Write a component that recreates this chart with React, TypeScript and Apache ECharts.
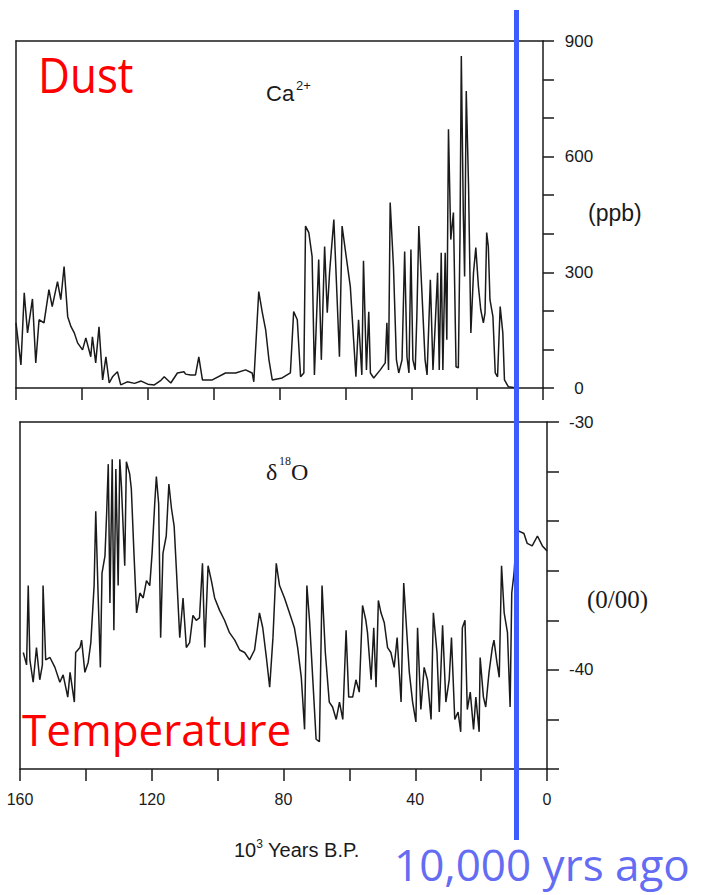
import { useEffect, useRef } from 'react';
import * as echarts from 'echarts';

// Ca2+ (ppb) vs age (10^3 years B.P.)
const caAges = [160, 158.5, 157.5, 156.5, 155, 154, 153, 151.5, 150, 149, 147.4, 146.4, 145.4, 144.3, 143.3, 142.3, 141.3, 139.8, 138.8, 137.3, 136.8, 135.8, 134.8, 133.7, 132.7, 131.7, 130.7, 129.2, 128.2, 126.2, 124, 122, 120, 118, 116, 115, 113, 111, 109, 108.5, 107, 105.5, 104.5, 103.4, 100.4, 96.4, 93.3, 90.3, 88.3, 87.8, 86.3, 85.2, 84.2, 83.2, 82.2, 79.2, 76.7, 75.7, 74.6, 73.6, 72.6, 72.1, 71.1, 70.1, 69.4, 68.1, 67.3, 66.3, 65.5, 64.8, 63.5, 62.5, 61.8, 61, 59.5, 58.5, 57.5, 56.8, 56, 55, 54.5, 53.6, 52.9, 52.4, 51.4, 49.4, 47.9, 47.4, 46.9, 46.4, 45.4, 44.5, 43.8, 42.8, 42, 41.3, 40.7, 40.1, 39.5, 38.8, 38.3, 37.7, 36.8, 35.8, 35.2, 34.2, 33.4, 32.7, 32, 31.5, 30.9, 30.4, 29.7, 29.2, 28.7, 28, 27.2, 26.4, 25.7, 25.2, 24.8, 24.2, 23.8, 23.3, 22.6, 21.9, 21.1, 20.4, 19.6, 18.9, 18.1, 17.6, 17.1, 16.6, 16.1, 15.2, 14.5, 13.8, 13, 12.2, 11.7, 10.5, 8];
const caValues = [169, 60, 247, 143, 231, 65, 177, 169, 255, 211, 276, 229, 315, 185, 159, 143, 117, 99, 130, 81, 133, 65, 159, 21, 81, 13, 29, 42, 8, 16, 12, 18, 10, 8, 20, 29, 13, 39, 42, 36, 34, 34, 81, 21, 21, 39, 39, 47, 39, 16, 250, 195, 151, 73, 21, 26, 39, 198, 177, 29, 39, 420, 403, 341, 34, 333, 73, 367, 195, 299, 437, 229, 81, 420, 325, 263, 125, 29, 177, 34, 330, 47, 198, 39, 26, 47, 65, 169, 47, 481, 315, 73, 39, 73, 354, 81, 39, 359, 73, 47, 185, 420, 255, 73, 34, 281, 47, 169, 299, 47, 351, 47, 351, 125, 671, 385, 455, 55, 52, 393, 861, 455, 289, 770, 523, 143, 299, 364, 263, 203, 169, 195, 403, 367, 229, 185, 39, 29, 211, 143, 21, 3, 0];

// delta 18O (per mil) vs age (10^3 years B.P.)
const d18OAges = [159, 158, 157.5, 157, 156, 155, 154, 153.2, 153, 152.2, 150.9, 149.4, 147.9, 146.9, 145.5, 144.8, 143.5, 143.1, 141.8, 141.3, 140.3, 139.3, 138.5, 137.5, 137, 136.3, 135.6, 135.1, 134.2, 133.7, 133.2, 132.7, 132, 131.5, 130.9, 130.2, 129.7, 129.2, 128.2, 127.7, 126.7, 126.2, 125.4, 124.6, 123.6, 122.6, 121.6, 120.6, 119.9, 119.1, 118.6, 117.9, 117.3, 116.6, 115.6, 114.8, 114, 113.2, 112.5, 111.5, 110.5, 109.5, 108.5, 107.5, 106.5, 105.5, 104.6, 103.9, 102.9, 101.9, 100.9, 99.4, 97.9, 96.4, 94.8, 93.3, 91.8, 90.3, 88.8, 87.3, 86.3, 85.2, 84.2, 83.2, 82.2, 81.2, 79.7, 78.2, 76.7, 75.7, 74.6, 73.6, 72.9, 72.1, 71.1, 70.1, 69.1, 68.3, 67.3, 66.1, 65.1, 64, 63, 62, 61, 60.2, 59, 58, 57, 56, 55, 54.5, 53.4, 52.6, 51.9, 51.2, 50.4, 49.4, 48.4, 47.4, 46.4, 45.5, 44.3, 43.5, 42.8, 41.8, 40.8, 39.8, 39.3, 38.3, 37.3, 36.3, 35.2, 34.5, 33.4, 32.7, 31.7, 30.7, 29.7, 29, 28, 27, 26.2, 25.7, 24.9, 24.2, 23.3, 22.3, 21.6, 20.6, 20.3, 19.3, 18.6, 17.6, 16.6, 16.1, 15.2, 14.5, 13.8, 13, 12, 11.2, 10.7, 10, 9.3, 8.5, 7, 6, 4.5, 2.9, 1.4, 0];
const d18OValues = [-39.3, -39.8, -36.6, -39.6, -40.5, -39.1, -40.4, -39.8, -36.6, -39.6, -39.5, -39.9, -40.5, -40.2, -41.1, -40.1, -41.3, -39.3, -39.1, -38.8, -40.1, -39.7, -38.9, -36.6, -33.6, -36.9, -39.9, -36.1, -35.4, -33.7, -31.7, -37.3, -31.5, -38.4, -31.9, -36.6, -31.5, -32.6, -35.8, -31.6, -32.1, -32.7, -35.3, -37.7, -36.9, -37.1, -36.4, -36.6, -35.3, -33.3, -32.2, -33.3, -38.7, -35.3, -34.6, -32.5, -33.5, -34.2, -36.0, -38.7, -37.1, -39.1, -38.9, -37.8, -38.0, -37.9, -35.7, -39.1, -35.8, -36.4, -37.1, -37.6, -38.0, -38.5, -38.8, -39.2, -39.3, -39.6, -39.2, -37.7, -38.3, -39.5, -40.7, -38.7, -35.7, -36.6, -37.1, -37.7, -38.3, -39.1, -40.3, -42.4, -36.6, -38.0, -40.4, -42.8, -42.9, -36.6, -39.3, -41.3, -41.5, -42.0, -41.3, -42.0, -38.4, -41.1, -41.1, -40.4, -40.9, -37.4, -38.0, -38.5, -40.4, -38.3, -40.7, -37.2, -37.7, -38.1, -39.1, -39.3, -39.9, -38.7, -41.3, -36.5, -38.0, -40.1, -41.3, -42.1, -38.3, -41.6, -39.9, -40.4, -42.0, -37.7, -39.3, -41.7, -38.2, -41.3, -40.4, -38.7, -42.0, -41.7, -42.5, -38.3, -38.0, -41.6, -40.9, -42.4, -41.1, -42.5, -39.5, -41.1, -41.5, -40.1, -39.1, -38.8, -39.7, -40.3, -35.8, -37.7, -38.5, -41.5, -36.9, -36.1, -34.6, -34.4, -34.5, -34.9, -35.0, -34.6, -35.0, -35.2];

const xTickLabels = [160, 120, 80, 40, 0];
const caTickLabels = [0, 300, 600, 900];
const d18OTickLabels = [-30, -40];

const INK = '#1a1a1a';
const SANS = '"Liberation Sans", Arial, sans-serif';
const SERIF = '"Liberation Serif", "Times New Roman", serif';
const UI = '"Open Sans", "Noto Sans", sans-serif';

const axisLine = { show: true, onZero: false, lineStyle: { color: INK, width: 1.5 } };

export default function App() {
  const ref = useRef<HTMLDivElement>(null);
  useEffect(() => {
    const chart = echarts.init(ref.current!, null, { renderer: 'svg' });
    const xBase = (gridIndex: number, position: string) => ({
      gridIndex,
      type: 'value',
      min: 0,
      max: 160,
      interval: 20,
      inverse: true,
      position,
      axisLine,
      splitLine: { show: false },
    });
    chart.setOption({
      animation: false,
      backgroundColor: '#ffffff',
      grid: [
        { left: 16, right: 169, top: 41, height: 347 },
        { left: 20, right: 165, top: 422, height: 347 },
      ],
      xAxis: [
        {
          ...xBase(0, 'bottom'),
          axisTick: { show: true, inside: false, length: 12, lineStyle: { color: INK, width: 1.5 } },
          axisLabel: { show: false },
        },
        { ...xBase(0, 'top'), axisTick: { show: false }, axisLabel: { show: false } },
        {
          ...xBase(1, 'bottom'),
          axisTick: { show: true, inside: false, length: 12, lineStyle: { color: INK, width: 1.5 } },
          axisLabel: {
            show: true,
            margin: 22,
            fontSize: 16,
            fontFamily: SANS,
            color: INK,
            formatter: (v: number) => (xTickLabels.includes(v) ? String(v) : ''),
          },
        },
        { ...xBase(1, 'top'), axisTick: { show: false }, axisLabel: { show: false } },
      ],
      yAxis: [
        {
          gridIndex: 0,
          type: 'value',
          position: 'right',
          min: 0,
          max: 900,
          interval: 100,
          axisLine,
          axisTick: { show: true, inside: false, length: 11, lineStyle: { color: INK, width: 1.5 } },
          axisLabel: {
            show: true,
            margin: 36,
            align: 'center',
            fontSize: 17,
            fontFamily: SANS,
            color: INK,
            formatter: (v: number) => (caTickLabels.includes(v) ? String(v) : ''),
          },
          splitLine: { show: false },
        },
        {
          gridIndex: 0,
          type: 'value',
          position: 'left',
          min: 0,
          max: 900,
          axisLine,
          axisTick: { show: false },
          axisLabel: { show: false },
          splitLine: { show: false },
        },
        {
          gridIndex: 1,
          type: 'value',
          position: 'right',
          min: -44,
          max: -30,
          interval: 2,
          axisLine,
          axisTick: { show: true, inside: false, length: 12, lineStyle: { color: INK, width: 1.5 } },
          axisLabel: {
            show: true,
            margin: 22,
            align: 'left',
            fontSize: 17,
            fontFamily: SANS,
            color: INK,
            formatter: (v: number) => (d18OTickLabels.includes(v) ? String(v) : ''),
          },
          splitLine: { show: false },
        },
        {
          gridIndex: 1,
          type: 'value',
          position: 'left',
          min: -44,
          max: -30,
          axisLine,
          axisTick: { show: false },
          axisLabel: { show: false },
          splitLine: { show: false },
        },
      ],
      series: [
        {
          type: 'line',
          xAxisIndex: 0,
          yAxisIndex: 0,
          data: caAges.map((a, i) => [a, caValues[i]]),
          showSymbol: false,
          silent: true,
          lineStyle: { color: INK, width: 1.5 },
        },
        {
          type: 'line',
          xAxisIndex: 2,
          yAxisIndex: 2,
          data: d18OAges.map((a, i) => [a, d18OValues[i]]),
          showSymbol: false,
          silent: true,
          lineStyle: { color: INK, width: 1.5 },
        },
      ],
      graphic: [
        {
          type: 'text', x: 38, y: 74, scaleX: 0.88, z: 50,
          style: { text: 'Dust', fill: '#ff0000', fontSize: 50, fontFamily: UI, align: 'left', verticalAlign: 'middle' },
        },
        {
          type: 'text', x: 266, y: 93, z: 50,
          style: { text: 'Ca', fill: INK, fontSize: 22, fontFamily: SANS, align: 'left', verticalAlign: 'middle' },
        },
        {
          type: 'text', x: 296, y: 85, z: 50,
          style: { text: '2+', fill: INK, fontSize: 13, fontFamily: SANS, align: 'left', verticalAlign: 'middle' },
        },
        {
          type: 'text', x: 588, y: 213, z: 50,
          style: { text: '(ppb)', fill: INK, fontSize: 23, fontFamily: SANS, align: 'left', verticalAlign: 'middle' },
        },
        {
          type: 'text', x: 22, y: 729, z: 50,
          style: { text: 'Temperature', fill: '#ff0000', fontSize: 44, fontFamily: UI, align: 'left', verticalAlign: 'middle' },
        },
        {
          type: 'text', x: 266, y: 472, z: 50,
          style: { text: 'δ', fill: INK, fontSize: 24, fontFamily: SERIF, align: 'left', verticalAlign: 'middle' },
        },
        {
          type: 'text', x: 279, y: 461, z: 50,
          style: { text: '18', fill: INK, fontSize: 12, fontFamily: SERIF, align: 'left', verticalAlign: 'middle' },
        },
        {
          type: 'text', x: 291, y: 472, z: 50,
          style: { text: 'O', fill: INK, fontSize: 24, fontFamily: SERIF, align: 'left', verticalAlign: 'middle' },
        },
        {
          type: 'text', x: 587, y: 599, z: 50,
          style: { text: '(0/00)', fill: INK, fontSize: 25, fontFamily: SERIF, align: 'left', verticalAlign: 'middle' },
        },
        {
          type: 'text', x: 234, y: 849, z: 50,
          style: {
            text: '{n|10}{s|3}{n| Years B.P.}',
            fill: INK,
            fontFamily: SANS,
            align: 'left',
            verticalAlign: 'middle',
            rich: {
              n: { fontSize: 20, fontFamily: SANS, fill: INK, lineHeight: 22, verticalAlign: 'bottom' },
              s: { fontSize: 12, fontFamily: SANS, fill: INK, lineHeight: 12, verticalAlign: 'top' },
            },
          },
        },
        {
          type: 'line', z: 100,
          shape: { x1: 516.5, y1: 10, x2: 516.5, y2: 840 },
          style: { stroke: '#3d5cff', lineWidth: 5 },
        },
        {
          type: 'text', x: 394, y: 864, z: 100,
          style: { text: '10,000 yrs ago', fill: '#636cf2', fontSize: 44, fontFamily: UI, align: 'left', verticalAlign: 'middle' },
        },
      ],
    });
    return () => chart.dispose();
  }, []);
  return (
    <div
      ref={ref}
      style={{ position: 'absolute', left: 0, top: 0, width: 712, height: 895 }}
    />
  );
}
